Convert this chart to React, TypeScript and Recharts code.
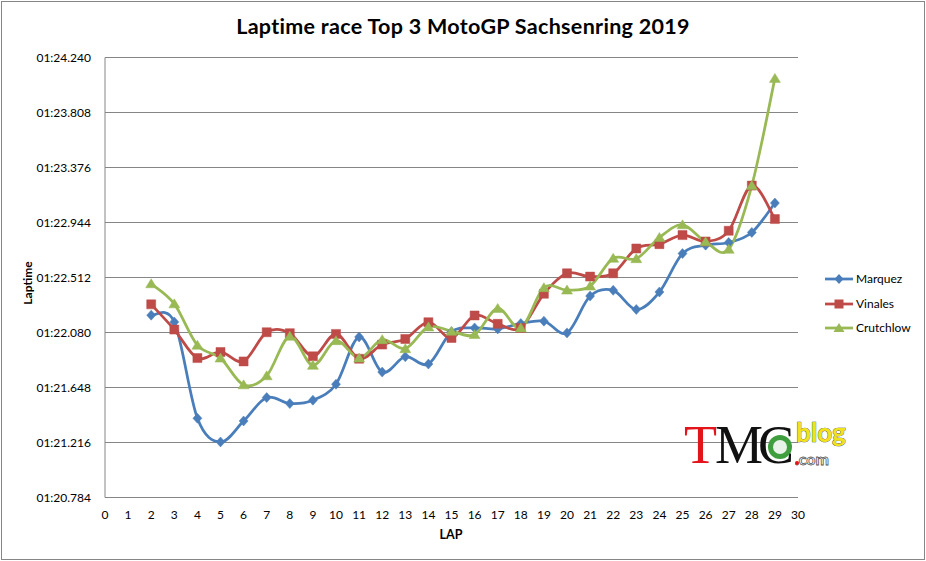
import React from "react";
import { LineChart, Line, XAxis, YAxis, CartesianGrid } from "recharts";

const laps = [2, 3, 4, 5, 6, 7, 8, 9, 10, 11, 12, 13, 14, 15, 16, 17, 18, 19, 20, 21, 22, 23, 24, 25, 26, 27, 28, 29];

// lap times in seconds
const marquez = [
  82.216, 82.163, 81.406, 81.22, 81.385, 81.569, 81.522, 81.548, 81.674, 82.045,
  81.769, 81.89, 81.832, 82.085, 82.116, 82.108, 82.151, 82.169, 82.077, 82.366,
  82.411, 82.261, 82.398, 82.7, 82.766, 82.787, 82.866, 83.097,
];
const vinales = [
  82.301, 82.103, 81.879, 81.927, 81.853, 82.082, 82.075, 81.893, 82.069, 81.874,
  81.985, 82.029, 82.161, 82.037, 82.214, 82.148, 82.116, 82.384, 82.545, 82.519,
  82.545, 82.74, 82.774, 82.845, 82.795, 82.879, 83.234, 82.971,
];
const crutchlow = [
  82.463, 82.305, 81.98, 81.879, 81.669, 81.74, 82.05, 81.822, 82.016, 81.879,
  82.024, 81.953, 82.124, 82.09, 82.064, 82.269, 82.116, 82.432, 82.413, 82.445,
  82.663, 82.66, 82.826, 82.926, 82.792, 82.734, 83.234, 84.076,
];

const xTicks = [0, 1, 2, 3, 4, 5, 6, 7, 8, 9, 10, 11, 12, 13, 14, 15, 16, 17, 18, 19, 20, 21, 22, 23, 24, 25, 26, 27, 28, 29, 30];
const yTicks = [80.784, 81.216, 81.648, 82.08, 82.512, 82.944, 83.376, 83.808, 84.24];

const rows = laps.map((lap, i) => ({
  lap,
  Marquez: marquez[i],
  Vinales: vinales[i],
  Crutchlow: crutchlow[i],
}));

const BLUE = "#4A7EBB";
const RED = "#BE4B48";
const GREEN = "#98B954";
const GRID = "#868686";
const FONT = "Lato, 'Open Sans', sans-serif";

const fmtTime = (v: number) => {
  const m = Math.floor(v / 60);
  const s = v - m * 60;
  return `${String(m).padStart(2, "0")}:${s.toFixed(3).padStart(6, "0")}`;
};

// Excel-like smoothed line (Catmull-Rom as cubic beziers)
const excelSmooth = (ctx: any) => {
  let pts: number[][] = [];
  return {
    areaStart() {},
    areaEnd() {},
    lineStart() {
      pts = [];
    },
    point(x: number, y: number) {
      pts.push([+x, +y]);
    },
    lineEnd() {
      if (!pts.length) return;
      ctx.moveTo(pts[0][0], pts[0][1]);
      for (let i = 0; i < pts.length - 1; i++) {
        const p0 = pts[Math.max(i - 1, 0)];
        const p1 = pts[i];
        const p2 = pts[i + 1];
        const p3 = pts[Math.min(i + 2, pts.length - 1)];
        ctx.bezierCurveTo(
          p1[0] + (p2[0] - p0[0]) / 6,
          p1[1] + (p2[1] - p0[1]) / 6,
          p2[0] - (p3[0] - p1[0]) / 6,
          p2[1] - (p3[1] - p1[1]) / 6,
          p2[0],
          p2[1]
        );
      }
    },
  };
};

const markerPath = (shape: string, cx: number, cy: number) => {
  if (shape === "diamond") return `M${cx},${cy - 5}L${cx + 4.5},${cy}L${cx},${cy + 5}L${cx - 4.5},${cy}Z`;
  if (shape === "square") return `M${cx - 4.5},${cy - 4.5}h9v9h-9Z`;
  return `M${cx},${cy - 5}L${cx + 5.5},${cy + 4}L${cx - 5.5},${cy + 4}Z`;
};

const makeDot = (shape: string, color: string) => (props: any) => {
  const { cx, cy, index } = props;
  if (cx == null || cy == null) return <g key={`d-${index}`} />;
  return <path key={`d-${index}`} d={markerPath(shape, cx, cy)} fill={color} stroke={color} strokeWidth={0.5} />;
};

const XTick = (props: any) => (
  <text x={props.x} y={props.y} dy="0.71em" textAnchor="middle" fontSize={12} fontFamily={FONT} fill="#000">
    {props.payload.value}
  </text>
);

const YTick = (props: any) => (
  <text x={props.x} y={props.y} dy="0.355em" textAnchor="end" fontSize={12} fontFamily={FONT} fill="#000">
    {fmtTime(props.payload.value)}
  </text>
);

const series = [
  { key: "Marquez", color: BLUE, shape: "diamond" },
  { key: "Vinales", color: RED, shape: "square" },
  { key: "Crutchlow", color: GREEN, shape: "triangle" },
];

const Watermark = () => (
  <svg width={190} height={80} style={{ position: "absolute", left: 676, top: 396 }}>
    <circle cx={104} cy={51} r={12} fill="#3f9f3f" />
    <circle cx={104} cy={51} r={7} fill="#e8f2e8" />
    <text x={8} y={67} fontFamily="'Liberation Serif', serif" fontSize={54} fill="#e3141c" letterSpacing={-3}>
      T
    </text>
    <text x={39} y={67} fontFamily="'Liberation Serif', serif" fontSize={54} fill="#111" letterSpacing={-5}>
      MC
    </text>
    <text
      x={120}
      y={46}
      fontFamily={FONT}
      fontWeight={700}
      fontSize={26}
      fill="#f2e21a"
      stroke="#333"
      strokeWidth={0.7}
      paintOrder="stroke"
    >
      blog
    </text>
    <text x={119} y={69} fontFamily={FONT} fontWeight={700} fontSize={16} fill="#fff" stroke="#555" strokeWidth={0.8}>
      .com
    </text>
    <circle cx={121} cy={67} r={2} fill="#e3141c" />
  </svg>
);

export default function App() {
  return (
    <div style={{ position: "absolute", left: 0, top: 0, width: 926, height: 561, background: "#fff", fontFamily: FONT }}>
      <div
        style={{
          position: "absolute",
          left: 1,
          top: 1,
          width: 922,
          height: 557,
          border: `1px solid ${GRID}`,
        }}
      />
      <LineChart
        width={926}
        height={561}
        data={rows}
        margin={{ top: 57.5, right: 128, bottom: 0, left: 0 }}
        style={{ fontFamily: FONT }}
      >
        <CartesianGrid horizontal vertical={false} stroke={GRID} strokeWidth={1} />
        <XAxis
          dataKey="lap"
          type="number"
          domain={[0, 30]}
          ticks={xTicks}
          interval={0}
          height={63.5}
          tickLine={false}
          tickSize={0}
          tickMargin={13}
          axisLine={{ stroke: GRID }}
          tick={<XTick />}
        />
        <YAxis
          type="number"
          domain={[80.784, 84.24]}
          ticks={yTicks}
          interval={0}
          width={105}
          tickLine={false}
          tickSize={0}
          tickMargin={14}
          axisLine={{ stroke: GRID }}
          tick={<YTick />}
          allowDataOverflow
        />
        {series.map((s) => (
          <Line
            key={s.key}
            dataKey={s.key}
            type={excelSmooth as any}
            stroke={s.color}
            strokeWidth={2.75}
            dot={makeDot(s.shape, s.color)}
            activeDot={false}
            isAnimationActive={false}
          />
        ))}
      </LineChart>

      <div
        style={{
          position: "absolute",
          left: 0,
          width: 926,
          top: 13,
          lineHeight: "26px",
          textAlign: "center",
          fontSize: 21.5,
          fontWeight: 700,
          letterSpacing: 0.3,
        }}
      >
        Laptime race Top 3 MotoGP Sachsenring 2019
      </div>

      <div
        style={{
          position: "absolute",
          left: 27,
          top: 283,
          transform: "translate(-50%, -50%) rotate(-90deg)",
          fontSize: 12,
          fontWeight: 700,
          whiteSpace: "nowrap",
        }}
      >
        Laptime
      </div>

      <div
        style={{
          position: "absolute",
          left: 451,
          top: 527,
          transform: "translateX(-50%)",
          fontSize: 12.5,
          fontWeight: 700,
          lineHeight: "15px",
        }}
      >
        LAP
      </div>

      <div style={{ position: "absolute", left: 825, top: 267 }}>
        {series.map((s) => (
          <div key={s.key} style={{ display: "flex", alignItems: "center", height: 24.5 }}>
            <svg width={30} height={12} style={{ marginRight: 1 }}>
              <line x1={0} y1={6} x2={28} y2={6} stroke={s.color} strokeWidth={2.75} />
              <path d={markerPath(s.shape, 14, 6)} fill={s.color} />
            </svg>
            <span style={{ fontSize: 12, lineHeight: "14px" }}>{s.key}</span>
          </div>
        ))}
      </div>

      <Watermark />
    </div>
  );
}
